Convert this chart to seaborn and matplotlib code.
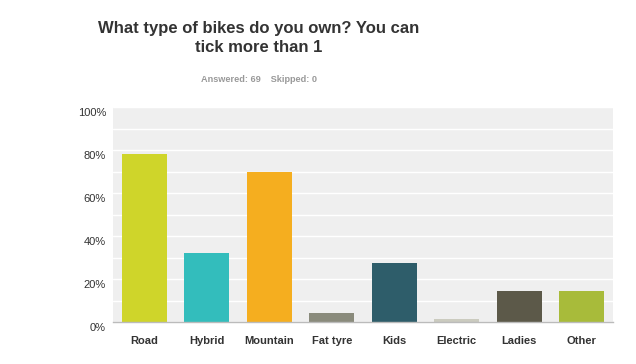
import matplotlib
matplotlib.use('Agg')
import matplotlib.pyplot as plt
import matplotlib.transforms as mtransforms
import seaborn as sns
import pandas as pd

# survey results (69 answered)
bike_types = ['Road', 'Hybrid', 'Mountain', 'Fat tyre', 'Kids', 'Electric', 'Ladies', 'Other']
percent = [78.26, 31.88, 69.57, 4.35, 27.54, 1.45, 14.49, 14.49]
bar_colors = ['#CFD52A', '#33BDBC', '#F5AE1F', '#8A8B7C', '#2E5D6A', '#CBCBBF', '#5C5949', '#A8BB3A']

df = pd.DataFrame({'type': bike_types, 'pct': percent})

sns.set_style('white')
plt.rcParams['font.family'] = ['Liberation Sans', 'DejaVu Sans']

fig = plt.figure(figsize=(6.36, 3.64), dpi=100)
ax = fig.add_axes([113 / 636, 42 / 364, 500 / 636, 215 / 364])

sns.barplot(data=df, x='type', y='pct', hue='type', palette=bar_colors,
            width=0.72, legend=False, saturation=1, linewidth=0, ax=ax)

ax.set_facecolor('#EFEFEF')
ax.set_ylim(0, 100)
ax.set_xlim(-0.5, len(bike_types) - 0.5)
ax.set_yticks(range(0, 101, 20))
ax.set_yticks(range(0, 101, 10), minor=True)
ax.set_yticklabels([f'{v}%' for v in range(0, 101, 20)])
ax.grid(True, which='both', axis='y', color='white', linewidth=1)
ax.set_axisbelow(True)
ax.tick_params(axis='both', which='both', length=0)
ax.tick_params(axis='y', pad=5, labelsize=8, labelcolor='#333333')
ax.tick_params(axis='x', pad=10, labelsize=8, labelcolor='#333333')
for lbl in ax.get_xticklabels():
    lbl.set_fontweight('bold')
offset = mtransforms.ScaledTranslation(0, -5 / 100, fig.dpi_scale_trans)
for lbl in ax.get_yticklabels():
    lbl.set_transform(lbl.get_transform() + offset)
ax.set_xlabel('')
ax.set_ylabel('')

for side in ['top', 'right', 'left']:
    ax.spines[side].set_visible(False)
ax.spines['bottom'].set_color('#BBBBBB')
ax.spines['bottom'].set_linewidth(1)

fig.text(259 / 636, 1 - 38 / 364, 'What type of bikes do you own? You can\ntick more than 1',
         ha='center', va='center', fontsize=12, fontweight='bold', color='#333333',
         linespacing=1.35)
fig.text(259 / 636, 1 - 80 / 364, 'Answered: 69    Skipped: 0',
         ha='center', va='center', fontsize=6.6, fontweight='bold', color='#999999')

fig.savefig('out.png', dpi=100)
